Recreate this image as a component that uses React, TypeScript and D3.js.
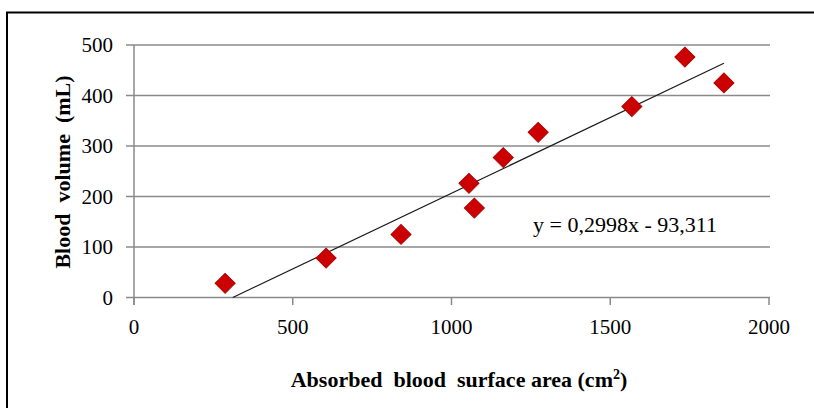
import * as d3 from 'd3';
import React from 'react';

// values
const areas = [287, 605, 841, 1055, 1072, 1163, 1273, 1568, 1735, 1858];
const volumes = [28, 78, 125, 226, 177, 277, 327, 378, 476, 425];
const xTicks = [0, 500, 1000, 1500, 2000];
const yTicks = [0, 100, 200, 300, 400, 500];
// trendline coefficients as printed on the chart
const slope = 0.2998;
const intercept = -93.311;

const App = () => {
	const w = 814;
	const h = 408;
	const x = d3.scaleLinear().domain([0, 2000]).range([134, 769]);
	const y = d3.scaleLinear().domain([0, 500]).range([297.5, 45]);

	const diamond = d3.symbol(d3.symbolSquare, 200)();

	// excel clips the trendline at the y axis minimum
	const x0 = Math.max(d3.min(areas), -intercept / slope);
	const x1 = d3.max(areas);
	const trend = d3.line()([
		[x(x0), y(slope * x0 + intercept)],
		[x(x1), y(slope * x1 + intercept)]
	]);

	const font = 'Liberation Serif, Times New Roman, serif';
	const grey = '#8a8a8a';

	return (
		<svg width={w} height={h} style={{ position: 'absolute', left: 0, top: 0, background: '#fff' }}>
			<rect x={7} y={12.5} width={900} height={500} fill="#fff" stroke="#000" strokeWidth={2} />

			{/* gridlines + y ticks */}
			{yTicks.map(t => (
				<g key={'y' + t}>
					<line x1={126} x2={770} y1={y(t)} y2={y(t)} stroke={grey} strokeWidth={1.5} />
					<text x={113} y={y(t)} dy="0.35em" textAnchor="end" fontFamily={font} fontSize={21} fill="#000">{t}</text>
				</g>
			))}
			<line x1={x(0)} x2={x(0)} y1={y(500)} y2={305} stroke={grey} strokeWidth={1.5} />

			{/* x ticks */}
			{xTicks.map(t => (
				<g key={'x' + t}>
					<line x1={x(t)} x2={x(t)} y1={y(0)} y2={305} stroke={grey} strokeWidth={1.5} />
					<text x={x(t)} y={334} textAnchor="middle" fontFamily={font} fontSize={21} fill="#000">{t}</text>
				</g>
			))}

			<path d={trend} stroke="#1a1a1a" strokeWidth={1.2} fill="none" />

			{areas.map((a, i) => (
				<path key={i} d={diamond} transform={`translate(${x(a)},${y(volumes[i])}) rotate(45)`}
					fill="#cc0000" stroke="#b00000" strokeWidth={1} />
			))}

			<text x={533} y={232} fontFamily={font} fontSize={22} fill="#000" style={{ whiteSpace: 'pre' }}>
				y = 0,2998x - 93,311
			</text>

			<text transform="translate(70,172) rotate(-90)" textAnchor="middle" fontFamily={font}
				fontSize={22} fontWeight="bold" fill="#000" style={{ whiteSpace: 'pre' }}>
				Blood  volume  (mL)
			</text>

			<text x={459} y={387} textAnchor="middle" fontFamily={font} fontSize={22} fontWeight="bold" fill="#000"
				style={{ whiteSpace: 'pre' }}>
				Absorbed  blood  surface area (cm<tspan fontSize={14} dy={-8}>2</tspan><tspan dy={8}>)</tspan>
			</text>
		</svg>
	);
};

export default App;
